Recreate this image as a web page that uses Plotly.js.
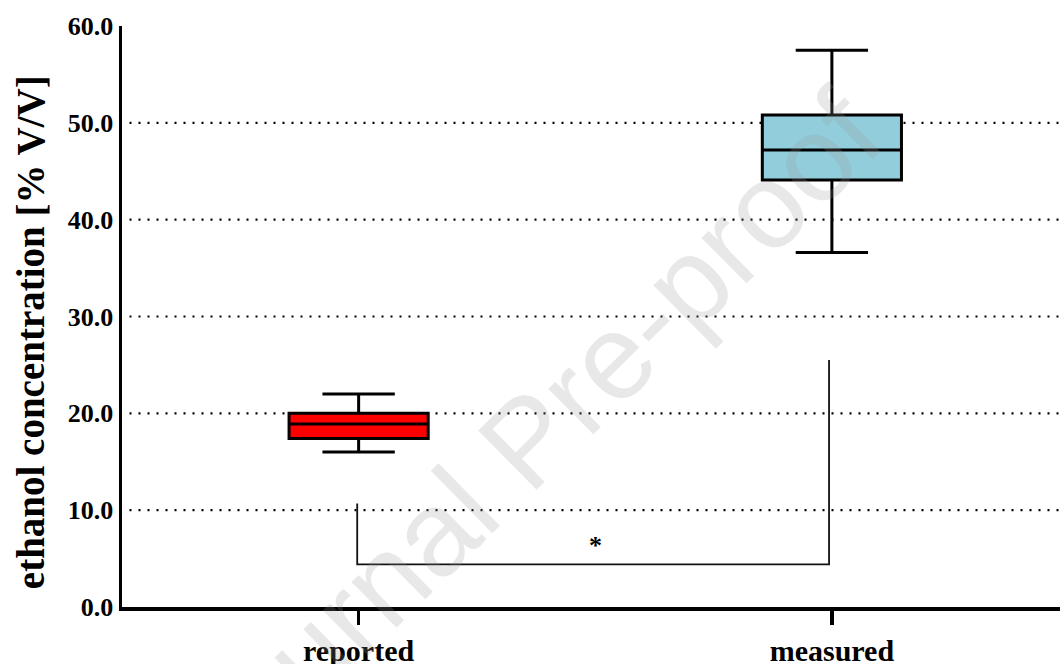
<!DOCTYPE html>
<html>
<head>
<meta charset="utf-8">
<script src="https://cdn.plot.ly/plotly-3.0.1.min.js"></script>
<style>html,body{margin:0;padding:0;background:#fff;}#chart{width:1060px;height:664px;}</style>
</head>
<body>
<div id="chart"></div>
<script>
// Data
const categories = ["reported", "measured"];
const catPos = [0, 1];
const lowerWhisker = [16.0, 36.6];
const q1Values = [17.4, 44.1];
const medianValues = [18.9, 47.2];
const q3Values = [20.0, 50.8];
const upperWhisker = [22.0, 57.5];
const boxColors = ["#ff0000", "#92cddc"];
const yTickVals = [0, 10, 20, 30, 40, 50, 60];
const yTickText = ["0.0", "10.0", "20.0", "30.0", "40.0", "50.0", "60.0"];
const gridVals = [10, 20, 30, 40, 50];
const bracketX = [-0.003, -0.003, 0.994, 0.994];
const bracketY = [10.7, 4.4, 4.4, 25.5];
const sigLabel = "*";
const sigY = 6.4;
const yTitle = "ethanol concentration [% V/V]";
const watermark = "Journal Pre-proof";

const serif = "Liberation Serif, Times New Roman, serif";

const traces = categories.map((c, i) => ({
  type: "box",
  name: c,
  x: [catPos[i]],
  q1: [q1Values[i]],
  median: [medianValues[i]],
  q3: [q3Values[i]],
  lowerfence: [lowerWhisker[i]],
  upperfence: [upperWhisker[i]],
  width: 0.294,
  whiskerwidth: 0.52,
  fillcolor: boxColors[i],
  line: {color: "#000", width: 3},
  boxpoints: false,
  hoverinfo: "skip",
  showlegend: false
}));

traces.push({
  type: "scatter",
  mode: "lines",
  x: bracketX,
  y: bracketY,
  line: {color: "#111", width: 1.8},
  hoverinfo: "skip",
  showlegend: false
});

const shapes = gridVals.map(v => ({
  type: "line", xref: "paper", yref: "y",
  x0: 0.008, x1: 1, y0: v, y1: v,
  line: {color: "#000", width: 2.2, dash: "2px,7px"},
  layer: "below"
}));

const layout = {
  width: 1060, height: 664,
  margin: {l: 122, r: 0, t: 26, b: 57},
  paper_bgcolor: "#fff", plot_bgcolor: "#fff",
  showlegend: false,
  xaxis: {
    range: [-0.5, 1.482],
    tickvals: catPos, ticktext: categories,
    showgrid: false, zeroline: false,
    showline: true, linecolor: "#000", linewidth: 4,
    ticks: "outside", ticklen: 14, tickwidth: 3.5, tickcolor: "#000",
    tickfont: {family: serif, size: 30, color: "#000", weight: "bold"},
    ticklabelstandoff: 0
  },
  yaxis: {
    range: [0, 60],
    tickvals: yTickVals, ticktext: yTickText,
    showgrid: false, zeroline: false,
    showline: true, linecolor: "#000", linewidth: 3.5,
    ticks: "",
    tickfont: {family: serif, size: 26, color: "#000", weight: "bold"},
    ticklabelstandoff: 0
  },
  shapes: shapes,
  annotations: [
    {x: -0.0981, y: 0.473, xref: "paper", yref: "paper", xanchor: "center", yanchor: "middle",
     text: yTitle, textangle: -90, showarrow: false,
     font: {family: serif, size: 39, color: "#000", weight: "bold"}},
    {x: 0.5, y: sigY, xref: "x", yref: "y", text: sigLabel, showarrow: false,
     font: {family: serif, size: 26, color: "#000", weight: "bold"}},
    {x: 0.431, y: 0.286, xref: "paper", yref: "paper", xanchor: "center", yanchor: "middle",
     text: watermark, showarrow: false,
     textangle: -44.5, font: {family: "Liberation Sans, Arial, sans-serif", size: 121, color: "rgba(150,150,150,0.22)"}}
  ]
};

Plotly.newPlot("chart", traces, layout, {displayModeBar: false, staticPlot: true});
</script>
</body>
</html>
